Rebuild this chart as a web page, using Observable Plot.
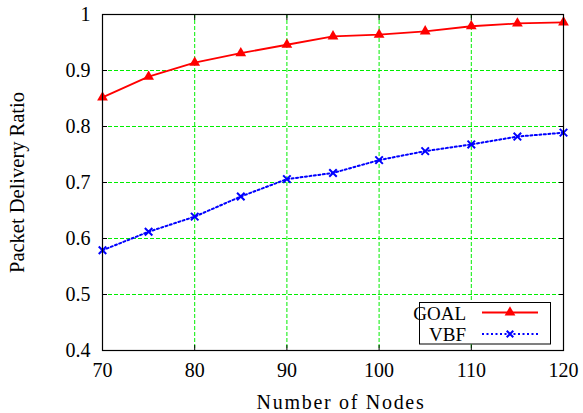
<!DOCTYPE html>
<html>
<head>
<meta charset="utf-8">
<script src="https://cdn.jsdelivr.net/npm/d3@7"></script>
<script src="https://cdn.jsdelivr.net/npm/@observablehq/plot@0.6"></script>
<style>
  html, body { margin: 0; padding: 0; background: #fff; }
  #chart { position: relative; width: 583px; height: 413px; }
  #chart svg, #chart svg text { font-family: "Liberation Serif", "Times New Roman", serif !important; font-variant: normal !important; }
  #legend { position: absolute; left: 0; top: 0; pointer-events: none; }
</style>
</head>
<body>
<div id="chart"></div>
<script>
const nodes = [70, 75, 80, 85, 90, 95, 100, 105, 110, 115, 120];
const goal  = [0.852, 0.889, 0.914, 0.931, 0.946, 0.961, 0.964, 0.970, 0.979, 0.984, 0.986];
const vbf   = [0.579, 0.612, 0.639, 0.675, 0.706, 0.717, 0.740, 0.756, 0.768, 0.782, 0.789];
const seriesNames = ["GOAL", "VBF"];
const xTicks = [70, 80, 90, 100, 110, 120];
const yTicks = [0.4, 0.5, 0.6, 0.7, 0.8, 0.9, 1];
const xGrid = [80, 90, 100, 110];
const yGrid = [0.5, 0.6, 0.7, 0.8, 0.9];
const xTitle = "Number of Nodes";
const yTitle = "Packet Delivery Ratio";

const goalData = nodes.map((n, i) => ({x: n, y: goal[i]}));
const vbfData = nodes.map((n, i) => ({x: n, y: vbf[i]}));

const font = "Liberation Serif";
const W = 583, H = 413;
const mL = 102, mR = 20, mT = 14, mB = 63;

const plot = Plot.plot({
  width: W,
  height: H,
  marginLeft: mL,
  marginRight: mR,
  marginTop: mT,
  marginBottom: mB,
  style: {fontFamily: font, fontSize: "19px", color: "black", background: "white", overflow: "visible"},
  x: {domain: [70, 120]},
  y: {domain: [0.4, 1]},
  marks: [
    Plot.gridX(xGrid, {stroke: "#00ee00", strokeOpacity: 1, strokeWidth: 1, strokeDasharray: "4,2"}),
    Plot.gridY(yGrid, {stroke: "#00ee00", strokeOpacity: 1, strokeWidth: 1, strokeDasharray: "4,2"}),
    Plot.line(goalData, {x: "x", y: "y", stroke: "#ff0000", strokeWidth: 1.8}),
    Plot.line(vbfData, {x: "x", y: "y", stroke: "#0000ff", strokeWidth: 2, strokeDasharray: "2,2.5"}),
    Plot.dot(goalData, {x: "x", y: "y", symbol: "triangle", fill: "#ff0000", r: 4}),
    Plot.dot(vbfData, {x: "x", y: "y", symbol: "times", stroke: "#0000ff", strokeWidth: 2, r: 3.5}),
    Plot.frame({stroke: "black", strokeWidth: 1.2}),
    Plot.axisX(xTicks, {anchor: "bottom", tickSize: -5, tickPadding: 17, fontSize: 20, fontFamily: font, label: null}),
    Plot.axisX(xTicks, {anchor: "top", tickSize: -5, tickFormat: () => "", label: null}),
    Plot.axisY(yTicks, {anchor: "left", tickSize: -5, tickPadding: 17, fontSize: 20, fontFamily: font, tickFormat: d => String(d), label: null}),
    Plot.axisY(yTicks, {anchor: "right", tickSize: -5, tickFormat: () => "", label: null}),
    Plot.text([xTitle], {text: d => d, frameAnchor: "bottom", textAnchor: "middle", lineAnchor: "bottom", dy: 58, dx: 8, fontSize: 20, fontFamily: font, fill: "black", className: "xtitle"}),
    Plot.text([yTitle], {text: d => d, frameAnchor: "left", textAnchor: "middle", lineAnchor: "bottom", rotate: -90, dx: -79, fontSize: 20.5, fontFamily: font, fill: "black"})
  ]
});
const chart = document.getElementById("chart");
chart.appendChild(plot);
d3.select(plot).selectAll(".xtitle text").style("letter-spacing", "1.7px");

// Legend (inside plot, bottom right)
const styles = [
  {name: seriesNames[0], color: "#ff0000", dash: null, width: 1.8, symbol: d3.symbolTriangle, fill: true},
  {name: seriesNames[1], color: "#0000ff", dash: "2,2.5", width: 2, symbol: d3.symbolTimes, fill: false}
];
const leg = d3.select(chart).append("svg")
  .attr("id", "legend")
  .attr("width", W).attr("height", H)
  .style("font-size", "19px");
leg.append("rect")
  .attr("x", 419.5).attr("y", 302.5).attr("width", 131).attr("height", 41.5)
  .attr("fill", "white").attr("stroke", "black").attr("stroke-width", 1);
styles.forEach((s, i) => {
  const cy = 312.5 + i * 21.5;
  leg.append("text").attr("x", 466).attr("y", cy + 7).attr("text-anchor", "end").attr("fill", "black").text(s.name);
  leg.append("line").attr("x1", 482).attr("x2", 538).attr("y1", cy).attr("y2", cy)
    .attr("stroke", s.color).attr("stroke-width", s.width).attr("stroke-dasharray", s.dash);
  leg.append("path").attr("transform", `translate(510,${cy})`)
    .attr("d", d3.symbol(s.symbol, s.fill ? 50 : 30)())
    .attr("fill", s.fill ? s.color : "none").attr("stroke", s.fill ? "none" : s.color).attr("stroke-width", 2);
});
</script>
</body>
</html>
